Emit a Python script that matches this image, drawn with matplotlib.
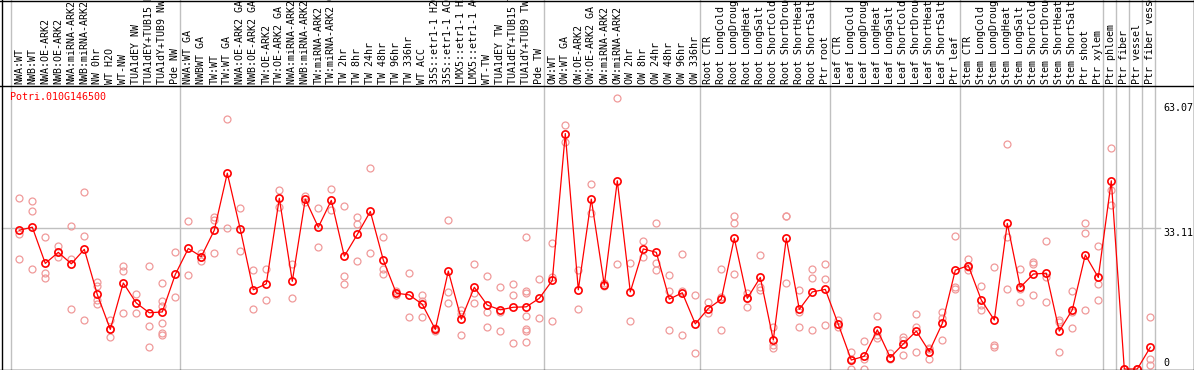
import matplotlib
matplotlib.use("Agg")
import matplotlib.pyplot as plt
from matplotlib.lines import Line2D
from matplotlib.transforms import blended_transform_factory

# ---------------- data ----------------
gene = "Potri.010G146500"

labels = [
    "NWA:WT", "NWB:WT", "NWA:OE-ARK2", "NWB:OE-ARK2", "NWA:miRNA-ARK2", "NWB:miRNA-ARK2",
    "NW 0hr", "WT H2O", "WT-NW", "TUA1dEY NW", "TUA1dEY+TUB15 NW", "TUA1dY+TUB9 NW", "Pde NW",
    "NWA:WT GA", "NWBWT GA", "TW:WT", "TW:WT GA", "NWA:OE-ARK2 GA", "NWB:OE-ARK2 GA",
    "TW:OE-ARK2", "TW:OE-ARK2 GA", "NWA:miRNA-ARK2 GA", "NWB:miRNA-ARK2 GA",
    "TW:miRNA-ARK2", "TW:miRNA-ARK2 GA", "TW 2hr", "TW 8hr", "TW 24hr", "TW 48hr",
    "TW 96hr", "TW 336hr", "WT ACC", "35S::etr1-1 H2O", "35S::etr1-1 ACC",
    "LMX5::etr1-1 H2O", "LMX5::etr1-1 ACC", "WT-TW", "TUA1dEY TW", "TUA1dEY+TUB15 TW",
    "TUA1dY+TUB9 TW", "Pde TW",
    "OW:WT", "OW:WT GA", "OW:OE-ARK2", "OW:OE-ARK2 GA", "OW:miRNA-ARK2", "OW:miRNA-ARK2",
    "OW 2hr", "OW 8hr", "OW 24hr", "OW 48hr", "OW 96hr", "OW 336hr",
    "Root CTR", "Root LongCold", "Root LongDrought", "Root LongHeat", "Root LongSalt",
    "Root ShortCold", "Root ShortDrought", "Root ShortHeat", "Root ShortSalt", "Ptr root",
    "Leaf CTR", "Leaf LongCold", "Leaf LongDrought", "Leaf LongHeat", "Leaf LongSalt",
    "Leaf ShortCold", "Leaf ShortDrought", "Leaf ShortHeat", "Leaf ShortSalt", "Ptr leaf",
    "Stem CTR", "Stem LongCold", "Stem LongDrought", "Stem LongHeat", "Stem LongSalt",
    "Stem ShortCold", "Stem ShortDrought", "Stem ShortHeat", "Stem ShortSalt",
    "Ptr shoot", "Ptr xylem", "Ptr phloem", "Ptr fiber", "Ptr vessel", "Ptr fiber vessel",
]

means = [
    32.6, 33.3, 24.8, 27.4, 24.7, 28.1, 17.5, 9.3, 20.2, 15.5, 13.2, 13.4, 22.2,
    28.3, 26.4, 32.6, 46.0, 32.8, 18.6, 20.0, 40.1, 20.6, 39.9, 33.3, 39.6, 26.5,
    31.6, 37.0, 25.6, 17.8, 17.4, 15.2, 9.3, 23.0, 11.7, 19.2, 15.0, 13.9, 14.5,
    14.6, 16.6,
    20.8, 55.3, 18.6, 39.9, 19.7, 44.2, 18.1, 28.2, 27.4, 16.4, 17.9, 10.6,
    14.2, 16.4, 30.7, 16.6, 21.5, 6.8, 30.7, 14.0, 18.1, 18.7,
    10.5, 2.1, 3.0, 9.2, 2.7, 5.9, 8.9, 4.1, 10.7, 23.2,
    24.3, 16.2, 11.5, 34.2, 19.2, 22.3, 22.5, 8.9, 13.9, 26.8, 21.5,
    44.2, 0.0, 0.0, 5.1,
]

replicates = [
    [40.1, 31.6, 25.8], [39.4, 37.0, 23.4], [31.0, 22.6, 21.3], [29.0, 27.4, 26.2],
    [33.7, 25.8, 14.2], [41.5, 31.2, 11.4], [20.4, 19.6, 16.2, 15.3], [11.5, 9.3, 7.4],
    [24.3, 23.1, 13.1], [17.7, 15.5, 13.1], [24.3, 10.0, 5.2],
    [20.2, 16.0, 14.8, 10.7, 8.5, 8.1], [27.4, 16.8],
    [34.7, 22.0], [27.2, 26.4, 25.4], [35.8, 35.0, 27.2], [58.6, 33.0], [37.7, 27.6],
    [23.2, 14.1], [23.6, 16.1], [42.0, 38.1], [24.7, 16.6], [40.7, 39.3], [37.9, 28.6],
    [42.2, 37.3], [38.2, 21.8, 19.9], [35.6, 34.0, 25.3], [47.1, 27.2],
    [30.9, 23.5, 22.2], [18.3, 17.8, 17.4], [22.5, 12.2], [17.4, 16.0, 12.2],
    [9.7, 9.2, 9.0], [35.1, 18.1, 15.6], [13.9, 12.8, 8.1], [24.6, 17.8, 15.4],
    [21.8, 13.3, 9.9], [19.2, 13.5, 8.9], [20.0, 17.3, 6.0],
    [30.9, 18.4, 17.8, 12.4, 9.3, 9.0, 6.3], [21.1, 11.9],
    [29.7, 21.7, 11.3], [57.3, 53.3], [23.3, 14.1], [43.4, 36.6], [20.1, 19.5],
    [63.6, 24.7], [25.0, 11.3], [30.1, 26.4], [34.2, 25.0, 23.2], [22.1, 18.3, 9.2],
    [27.0, 18.4, 7.9], [17.3, 3.7],
    [15.7, 13.1], [23.4, 16.8, 9.2], [35.9, 34.2, 22.2], [17.8, 16.6, 14.6],
    [26.8, 19.3, 18.6], [9.9, 5.6, 5.0], [36.0, 35.9, 20.1], [18.6, 13.5, 9.8],
    [23.6, 21.3, 9.2], [24.7, 21.1, 10.3],
    [11.4, 10.5, 9.9], [3.9, 2.3, 0.1], [6.6, 2.3, 0.0], [12.4, 8.0, 7.2],
    [3.8, 2.5, 2.3], [7.6, 6.8, 3.4], [12.9, 9.9, 4.0], [5.0, 4.6, 2.3],
    [13.5, 11.9, 6.8], [31.2, 19.3, 18.9],
    [25.8, 24.0, 23.2], [19.5, 15.0, 13.9], [23.9, 5.6, 5.1], [52.8, 30.9, 18.9],
    [23.4, 18.7, 15.7], [25.2, 24.7, 17.4], [30.0, 21.7, 15.7], [11.5, 11.1, 4.0],
    [18.3, 13.5, 9.6], [34.2, 31.9, 13.9], [29.0, 19.9, 16.2],
    [51.8, 42.0, 38.5], [0.0, 0.0, 0.0], [0.0, 0.0, 0.0], [12.1, 2.3, 0.9],
]

group_ends = [13, 41, 53, 63, 73, 84, 85, 86, 87, 88]
ytick_values = [63.07, 33.11]
ytick_labels = ["63.07", "33.11"]

# ---------------- layout (pixels) ----------------
W, H = 1194, 370
X0, DX = 19.3, 13.0          # pixel x of first column and column pitch
AX_L, AX_R = 2, 1193
AX_T, AX_B = 85, 369
PX_PER_UNIT = 4.258

fig = plt.figure(figsize=(W / 100, H / 100), dpi=100)
fig.patch.set_facecolor("white")
ax = fig.add_axes([AX_L / W, (H - AX_B) / H, (AX_R - AX_L) / W, (AX_B - AX_T) / H])
ax.set_xlim((AX_L - X0) / DX, (AX_R - X0) / DX)
ax.set_ylim(0, (AX_B - AX_T) / PX_PER_UNIT)
ax.axis("off")

mono = "DejaVu Sans Mono"
fs = 7.2
grey = "#c0c0c0"
top_ax_y = AX_B / (AX_B - AX_T)   # axes-y of figure top
trans = blended_transform_factory(ax.transData, ax.transAxes)

# vertical group separators (through header and plot)
seps = [-0.62] + [e - 0.62 for e in group_ends]
for s in seps:
    ax.plot([s, s], [0, top_ax_y], color=grey, lw=1.0, transform=trans,
            clip_on=False, zorder=1)

# horizontal grid at middle tick
x_grid_end = (1160 - X0) / DX
ax.plot([ax.get_xlim()[0], x_grid_end], [ytick_values[1]] * 2, color=grey, lw=1.0,
        zorder=1, clip_on=False)

# replicates
xs_r, ys_r = [], []
for i, reps in enumerate(replicates):
    for v in reps:
        xs_r.append(i)
        ys_r.append(v)
ax.plot(xs_r, ys_r, linestyle="none", marker="o", ms=5.0, mfc="none",
        mec="#f09a9a", mew=0.9, clip_on=False, zorder=2)

# mean line
xs = list(range(len(means)))
ax.plot(xs, means, color="#ff0000", lw=0.9, zorder=3, clip_on=False)
ax.plot(xs, means, linestyle="none", marker="o", ms=5.2, mfc="none",
        mec="#ff0000", mew=1.2, zorder=4, clip_on=False)

# header labels
for i, lab in enumerate(labels):
    ax.text(i, (AX_B - 84) / (AX_B - AX_T), lab, transform=trans, rotation=90,
            ha="center", va="bottom", fontsize=fs, family=mono, color="black",
            clip_on=False, rotation_mode="default")

# frame lines (black)
def hline(y, x0=0, x1=W):
    fig.add_artist(Line2D([x0 / W, x1 / W], [(H - y) / H] * 2, color="black", lw=1.0,
                          transform=fig.transFigure))

def vline(x, y0=0, y1=H):
    fig.add_artist(Line2D([x / W] * 2, [(H - y0) / H, (H - y1) / H], color="black",
                          lw=1.0, transform=fig.transFigure))

hline(0.5)
hline(85.5)
hline(369.5)
vline(1.5)
vline(1193.5)

# title
fig.text(10 / W, (H - 100.5) / H, gene, color="#ff0000", fontsize=fs, family=mono,
         ha="left", va="baseline")

# y labels on right
fig.text(1163 / W, (H - 110.7) / H, ytick_labels[0], fontsize=fs, family=mono,
         ha="left", va="baseline")
fig.text(1163 / W, (H - 236) / H, ytick_labels[1], fontsize=fs, family=mono,
         ha="left", va="baseline")
fig.text(1163 / W, (H - 366) / H, "0", fontsize=fs, family=mono, ha="left",
         va="baseline")

fig.savefig("out.png", dpi=100, facecolor="white")
